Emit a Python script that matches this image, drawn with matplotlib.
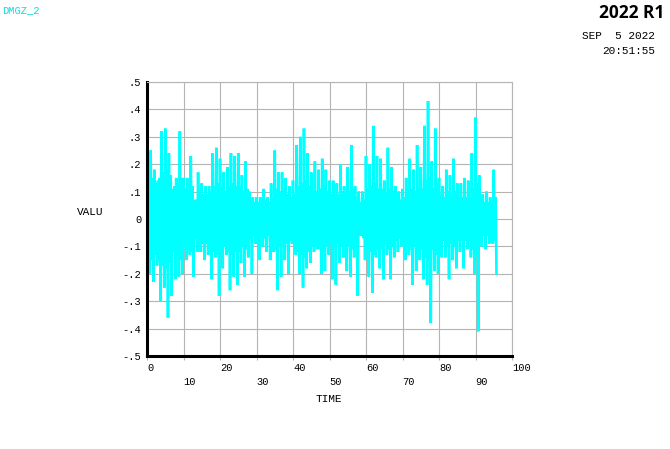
import matplotlib
matplotlib.use("Agg")
import matplotlib.pyplot as plt
import numpy as np

# peak (hi) and trough (lo) per time unit
time_step = 1.0
hi = [0.26, 0.25, 0.18, 0.14, 0.32, 0.33, 0.24, 0.11, 0.15, 0.32,
      0.15, 0.15, 0.23, 0.07, 0.17, 0.13, 0.12, 0.12, 0.24, 0.26,
      0.22, 0.17, 0.19, 0.24, 0.23, 0.24, 0.16, 0.21, 0.10, 0.08,
      0.08, 0.08, 0.11, 0.08, 0.13, 0.25, 0.17, 0.17, 0.15, 0.12,
      0.14, 0.27, 0.30, 0.33, 0.24, 0.17, 0.21, 0.18, 0.22, 0.18,
      0.14, 0.14, 0.13, 0.20, 0.12, 0.19, 0.27, 0.12, 0.10, 0.10,
      0.23, 0.20, 0.34, 0.23, 0.22, 0.14, 0.26, 0.19, 0.12, 0.10,
      0.11, 0.15, 0.22, 0.18, 0.27, 0.19, 0.34, 0.43, 0.21, 0.33,
      0.15, 0.12, 0.18, 0.16, 0.22, 0.13, 0.13, 0.15, 0.14, 0.24,
      0.37, 0.16, 0.09, 0.10, 0.08, 0.18]
lo = [-0.20, -0.23, -0.17, -0.30, -0.25, -0.36, -0.28, -0.22, -0.21, -0.20,
      -0.15, -0.13, -0.21, -0.12, -0.12, -0.15, -0.13, -0.22, -0.14, -0.28,
      -0.18, -0.13, -0.26, -0.21, -0.24, -0.16, -0.21, -0.14, -0.20, -0.09,
      -0.15, -0.10, -0.12, -0.15, -0.12, -0.26, -0.21, -0.15, -0.20, -0.09,
      -0.13, -0.20, -0.25, -0.18, -0.16, -0.12, -0.11, -0.20, -0.19, -0.13,
      -0.22, -0.24, -0.16, -0.14, -0.19, -0.21, -0.14, -0.28, -0.06, -0.15,
      -0.21, -0.27, -0.14, -0.18, -0.22, -0.13, -0.22, -0.14, -0.12, -0.10,
      -0.15, -0.13, -0.24, -0.19, -0.15, -0.22, -0.24, -0.38, -0.19, -0.20,
      -0.14, -0.14, -0.22, -0.15, -0.18, -0.12, -0.18, -0.11, -0.14, -0.20,
      -0.41, -0.10, -0.11, -0.09, -0.09, -0.20]
# half-width of the solid core of the trace per time unit
band = [0.14, 0.15, 0.13, 0.15, 0.17, 0.18, 0.16, 0.12, 0.13, 0.15,
        0.11, 0.10, 0.12, 0.07, 0.10, 0.09, 0.09, 0.10, 0.12, 0.13,
        0.12, 0.10, 0.12, 0.13, 0.12, 0.12, 0.10, 0.11, 0.07, 0.06,
        0.06, 0.06, 0.07, 0.06, 0.08, 0.11, 0.10, 0.10, 0.09, 0.08,
        0.09, 0.12, 0.13, 0.14, 0.12, 0.10, 0.10, 0.11, 0.12, 0.10,
        0.09, 0.10, 0.09, 0.10, 0.09, 0.10, 0.11, 0.08, 0.06, 0.07,
        0.11, 0.12, 0.13, 0.11, 0.11, 0.09, 0.11, 0.10, 0.08, 0.07,
        0.08, 0.09, 0.11, 0.10, 0.12, 0.11, 0.14, 0.15, 0.11, 0.13,
        0.09, 0.08, 0.10, 0.09, 0.10, 0.08, 0.08, 0.08, 0.08, 0.11,
        0.13, 0.08, 0.06, 0.06, 0.06, 0.08]

yticks = [-0.5, -0.4, -0.3, -0.2, -0.1, 0, 0.1, 0.2, 0.3, 0.4, 0.5]
ylabels = ["-.5", "-.4", "-.3", "-.2", "-.1", "0", ".1", ".2", ".3", ".4", ".5"]
xticks = [0, 10, 20, 30, 40, 50, 60, 70, 80, 90, 100]

# build the trace: peak, core low, core high, trough for each time unit
core = np.array(band)
valu = np.ravel(np.column_stack([hi, -core, core, lo]))
t = np.arange(len(valu)) * time_step / 4

mono = "Liberation Mono"
fig = plt.figure(figsize=(6.7, 4.49), dpi=100)
ax = fig.add_axes([147 / 670, 1 - 356 / 449, 365 / 670, 274 / 449])

ax.plot(t, valu, color="#00ffff", lw=1.9, solid_joinstyle="miter")
ax.set_xlim(0, 100)
ax.set_ylim(-0.5, 0.5)

ax.set_xticks(xticks)
ax.set_yticks(yticks)
ax.set_xticklabels([])
ax.set_yticklabels(ylabels, family=mono, fontsize=7.5)
ax.grid(True, color="#b4b4b4", lw=0.8)
ax.tick_params(axis="y", length=0, pad=4)
ax.tick_params(axis="x", length=3, color="#b4b4b4", direction="out")

for i, x in enumerate(xticks):
    y = -0.045 if i % 2 == 0 else -0.095
    ax.text(x, y, str(x), transform=ax.get_xaxis_transform(), family=mono,
            fontsize=7.5, ha="left", va="center")

for s in ["top", "right"]:
    ax.spines[s].set_color("#b4b4b4")
    ax.spines[s].set_linewidth(0.8)
for s in ["left", "bottom"]:
    ax.spines[s].set_color("black")
    ax.spines[s].set_linewidth(2.2)

fig.text(90 / 670, 1 - 212 / 449, "VALU", family=mono, fontsize=8, ha="center", va="center")
fig.text(329 / 670, 1 - 399 / 449, "TIME", family=mono, fontsize=8, ha="center", va="center")
fig.text(2 / 670, 1 - 10 / 449, "DMGZ_2", family=mono, fontsize=7.5, color="#00e0e0", ha="left", va="center")
fig.text(664 / 670, 1 - 13 / 449, "2022 R1", family="Open Sans", fontweight="bold",
         fontsize=12.5, ha="right", va="center")
fig.text(655 / 670, 1 - 36 / 449, "SEP  5 2022", family=mono, fontsize=8, ha="right", va="center")
fig.text(655 / 670, 1 - 51 / 449, "20:51:55", family=mono, fontsize=8, ha="right", va="center")

fig.savefig("out.png", dpi=100)
